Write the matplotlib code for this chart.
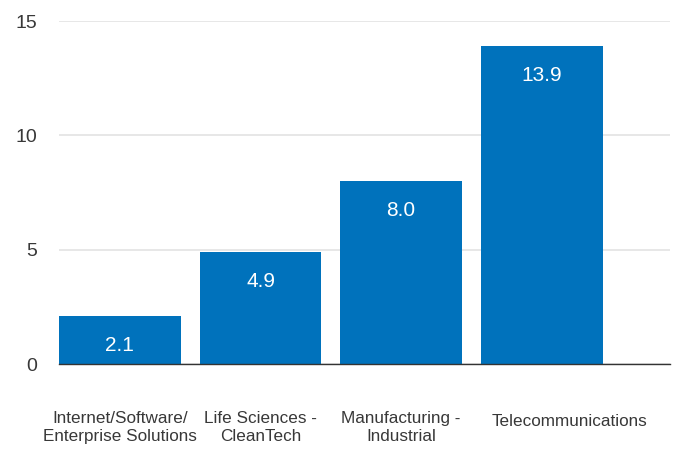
import matplotlib.pyplot as plt
from matplotlib.transforms import ScaledTranslation

plt.rcParams['font.family'] = ['Liberation Sans', 'DejaVu Sans']

categories = ['Internet/Software/\nEnterprise Solutions', 'Life Sciences -\nCleanTech',
              'Manufacturing -\nIndustrial', 'Telecommunications']
values = [2.1, 4.9, 8.0, 13.9]
yticks = [0, 5, 10, 15]

bar_color = '#0072bc'
text_color = '#383838'

fig = plt.figure(figsize=(6.75, 4.5), dpi=100)
ax = fig.add_axes([0.0874, 0.191, 0.905, 0.762])

x = range(len(values))
bars = ax.bar(x, values, width=0.865, color=bar_color, zorder=2)

for rect, v in zip(bars, values):
    ax.annotate(f'{v:.1f}', (rect.get_x() + rect.get_width() / 2, v),
                xytext=(0, -21), textcoords='offset points',
                ha='center', va='center', color='white', fontsize=15)

ax.set_xlim(-0.4325, 3.91)
ax.set_ylim(0, 15)
ax.set_yticks(yticks)
ax.set_xticks(list(x))
ax.set_xticklabels(categories, fontsize=12.3, color=text_color, linespacing=1.3)
ax.tick_params(axis='x', length=0, pad=33.5)
ax.tick_params(axis='y', length=0, pad=16, labelsize=14, labelcolor=text_color)

# last label sits a bit right of its bar
last = ax.get_xticklabels()[-1]
last.set_transform(last.get_transform() + ScaledTranslation(0.28, -0.03, fig.dpi_scale_trans))

ax.grid(axis='y', color='#e3e3e3', linewidth=1.2, zorder=0)
for side in ['top', 'right', 'left']:
    ax.spines[side].set_visible(False)
ax.spines['bottom'].set_color('#333333')
ax.spines['bottom'].set_linewidth(1.0)
ax.spines['bottom'].set_zorder(3)

plt.savefig('out.png', dpi=100)
